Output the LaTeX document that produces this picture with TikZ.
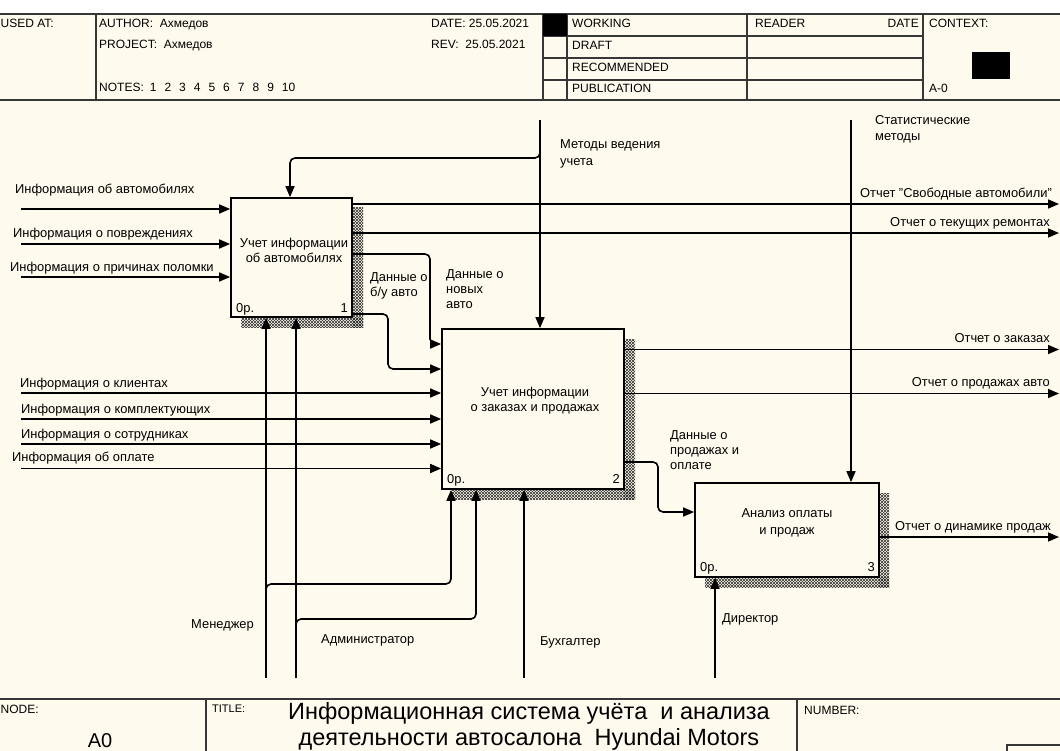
\documentclass[tikz,border=0pt]{standalone}
\usepackage{fontspec}
\setmainfont{Liberation Sans}
\usetikzlibrary{arrows.meta,patterns}
\definecolor{bgc}{RGB}{255,250,238}
\definecolor{frm}{RGB}{55,55,55}
\begin{document}
\begin{tikzpicture}[x=1pt,y=-1pt,
  lab/.style={font=\fontsize{12.9}{15}\selectfont, inner sep=0pt, align=left},
  labw/.style={lab, anchor=mid west},
  labe/.style={lab, anchor=mid east},
  labm/.style={lab, anchor=north west},
  hdr/.style={font=\fontsize{12}{14}\selectfont, inner sep=0pt, anchor=mid west},
  fbox/.style={draw, line width=1.7pt, fill=bgc, inner sep=0pt},
  arr/.style={line width=1.6pt, -{Triangle[length=11pt,width=9pt]}, rounded corners=5pt},
  shadA/.style={pattern=north east lines, pattern color=black!80},
  shadB/.style={pattern=north west lines, pattern color=black!80},
  frame/.style={line width=1.8pt, draw=frm}]
\fill[white] (0,0) rectangle (1060,751);
\useasboundingbox (0,0) rectangle (1060,751);
\clip (0,0) rectangle (1060,751);
\fill[bgc] (0,13) rectangle (1060,751);

% ---------- header ----------
\draw[frame] (0,14) -- (1060,14);
\draw[frame] (0,100) -- (1060,100);
\foreach \xx in {96,543,567,747,923} \draw[frame] (\xx,14) -- (\xx,100);
\foreach \yy in {36,58,80} \draw[frame] (543,\yy) -- (923,\yy);
\fill[black] (543,14) rectangle (567,36);
\fill[black] (972,52) rectangle (1010,79);
\node[hdr] (usedat) at (0.5,25) {USED AT:};
\node[hdr] (author) at (99,25) {AUTHOR:\ \ Ахмедов};
\node[hdr] (project) at (99,46) {PROJECT:\ \ Ахмедов};
\node[hdr] (notes) at (99,89) {NOTES:\hspace{6pt}1\hspace{8pt}2\hspace{8pt}3\hspace{8pt}4\hspace{8pt}5\hspace{8pt}6\hspace{8pt}7\hspace{8pt}8\hspace{8pt}9\hspace{8pt}10};
\node[hdr] (date) at (431,25) {DATE: 25.05.2021};
\node[hdr] (rev) at (431,46) {REV:\ \ 25.05.2021};
\node[hdr] (working) at (572,25) {WORKING};
\node[hdr] (draft) at (572,47) {DRAFT};
\node[hdr] (recom) at (572,69) {RECOMMENDED};
\node[hdr] (publ) at (572,90) {PUBLICATION};
\node[hdr] (reader) at (755,25) {READER};
\node[hdr, anchor=mid east] (rdate) at (919,25) {DATE};
\node[hdr] (context) at (929,25) {CONTEXT:};
\node[hdr] (azero) at (929,90) {A-0};

% ---------- footer ----------
\draw[frame] (0,699) -- (1060,699);
\draw[frame] (206,699) -- (206,751);
\draw[frame] (797,699) -- (797,751);
\draw[line width=1.5pt, draw=frm] (1007,751) -- (1007,745) -- (1060,745);
\node[hdr] (nodel) at (0.5,711) {NODE:};
\node[hdr, font=\fontsize{11}{13}\selectfont] (titlel) at (212,710) {TITLE:};
\node[hdr] (numl) at (804,712) {NUMBER:};
\node[inner sep=0pt, font=\fontsize{20}{24}\selectfont] (anode) at (100,741) {A0};
\node[inner sep=0pt, align=center, font=\fontsize{23.5}{26}\selectfont] (title) at (529,726)
  {Информационная система учёта\ \ и анализа\\деятельности автосалона\ \ Hyundai Motors};

% ---------- shadows ----------
\foreach \s in {shadA,shadB}{
  \fill[\s] (352,208) rectangle (363,327);
  \fill[\s] (241,317) rectangle (363,327);
  \fill[\s] (624,339) rectangle (635,499);
  \fill[\s] (452,489) rectangle (635,499);
  \fill[\s] (879,493) rectangle (889,587);
  \fill[\s] (705,577) rectangle (889,587);
}

% ---------- boxes ----------
\node[fbox, minimum width=121pt, minimum height=119pt] (b1) at (291.5,257.5) {};
\node[fbox, minimum width=182pt, minimum height=160pt] (b2) at (533,409) {};
\node[fbox, minimum width=184pt, minimum height=94pt] (b3) at (787,530) {};
\node[lab, align=center] (t1) at (294,250.5) {Учет информации\\об автомобилях};
\node[lab, align=center] (t2) at (535,400.5) {Учет информации\\о заказах и продажах};
\node[lab, align=center, font=\fontsize{12.9}{16.5}\selectfont] (t3) at (787,523) {Анализ оплаты\\и продаж};
\node[labw] (c1) at (236,310) {0р.};
\node[labe] (n1) at (348,310) {1};
\node[labw] (c2) at (447,481) {0р.};
\node[labe] (n2) at (620,481) {2};
\node[labw] (c3) at (700,569) {0р.};
\node[labe] (n3) at (875,569) {3};

% ---------- coordinates ----------
\coordinate (i1) at (21,209);
\coordinate (i2) at (21,244);
\coordinate (i3) at (21,277);
\coordinate (i4) at (21,393);
\coordinate (i5) at (21,419);
\coordinate (i6) at (21,444);
\coordinate (i7) at (21,468.5);
\coordinate (o1) at (1059,204);
\coordinate (o2) at (1059,233);
\coordinate (o3) at (1059,349.5);
\coordinate (o4) at (1059,393.5);
\coordinate (o5) at (1059,537);
\coordinate (mv) at (540,120);
\coordinate (sv) at (851,120);
\coordinate (mg) at (266,678);
\coordinate (ad) at (296,678);
\coordinate (bu) at (524,678);
\coordinate (di) at (715,678);

% ---------- inputs ----------
\foreach \c in {i1,i2,i3} \draw[arr] (\c) -- (b1.west |- \c);
\foreach \c in {i4,i5,i6,i7} \draw[arr] (\c) -- (b2.west |- \c);
% ---------- outputs ----------
\foreach \c in {o1,o2} \draw[arr] (b1.east |- \c) -- (\c);
\foreach \c in {o3,o4} \draw[arr] (b2.east |- \c) -- (\c);
\draw[arr] (b3.east |- o5) -- (o5);
% ---------- internal flows ----------
\draw[arr] (b1.east |- 0,254) -- (430,254) -- (430,344) -- (b2.west |- 0,344);
\draw[arr] (b1.east |- 0,314) -- (388,314) -- (388,369) -- (b2.west |- 0,369);
\draw[arr] (b2.east |- 0,462) -- (658,462) -- (658,512) -- (b3.west |- 0,512);
% ---------- controls ----------
\draw[arr] (mv) -- (mv |- b2.north);
\draw[arr] (540,140) -- (540,158) -- (290,158) -- (b1.north -| 290,0);
\draw[arr] (sv) -- (sv |- b3.north);
% ---------- mechanisms ----------
\draw[arr] (mg) -- (mg |- b1.south);
\draw[arr] (ad) -- (ad |- b1.south);
\draw[arr] (266,600) -- (266,584) -- (451,584) -- (b2.south -| 451,0);
\draw[arr] (296,630) -- (296,619) -- (476,619) -- (b2.south -| 476,0);
\draw[arr] (bu) -- (bu |- b2.south);
\draw[arr] (di) -- (di |- b3.south);

% ---------- labels ----------
\node[labw] (l1) at (15,191) {Информация об автомобилях};
\node[labw] (l2) at (13,235) {Информация о повреждениях};
\node[labw] (l3) at (10,269) {Информация о причинах поломки};
\node[labw] (l4) at (20,385) {Информация о клиентах};
\node[labw] (l5) at (21,411) {Информация о комплектующих};
\node[labw] (l6) at (21,436) {Информация о сотрудниках};
\node[labw] (l7) at (12,459) {Информация об оплате};
\node[labe] (r1) at (1052,195) {Отчет "Свободные автомобили"};
\node[labe] (r2) at (1050,224) {Отчет о текущих ремонтах};
\node[labe] (r3) at (1050,340) {Отчет о заказах};
\node[labe] (r4) at (1050,384) {Отчет о продажах авто};
\node[labe] (r5) at (1051,527.5) {Отчет о динамике продаж};
\node[labm, font=\fontsize{12.9}{17}\selectfont] (lm) at (560,139.4) {Методы ведения\\учета};
\node[labm, font=\fontsize{12.9}{15.5}\selectfont] (ls) at (875,115.4) {Статистические\\методы};
\node[labm] (lbu) at (370,272.4) {Данные о\\б/у авто};
\node[labm] (lnew) at (446,269.4) {Данные о\\новых\\авто};
\node[labm] (lpay) at (670,430.4) {Данные о\\продажах и\\оплате};
\node[labw] (lmg) at (191,626) {Менеджер};
\node[labw] (lad) at (321,640.5) {Администратор};
\node[labw] (lbuh) at (540,643) {Бухгалтер};
\node[labw] (ldir) at (722,620) {Директор};
\end{tikzpicture}
\end{document}
